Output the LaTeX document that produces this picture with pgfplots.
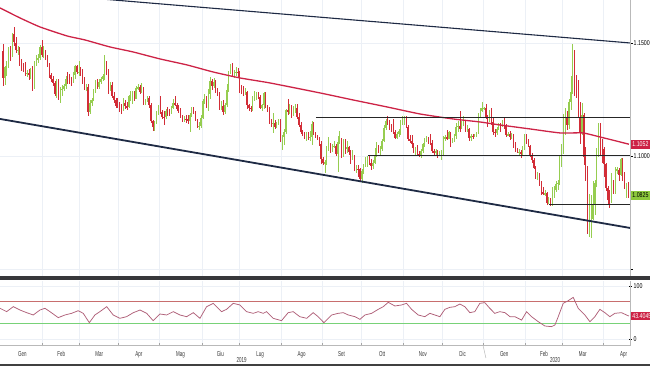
\documentclass[border=0pt]{standalone}
\usepackage{pgfplots}
\pgfplotsset{compat=1.18}
\usepackage{pgfplotstable}
\usepackage{fontspec}
\setmainfont{Liberation Sans}
\newfontfamily\condA[FakeStretch=0.62]{Liberation Sans}
\newfontfamily\condB[FakeStretch=0.75]{Liberation Sans}
\definecolor{upc}{RGB}{150,205,80}
\definecolor{dnc}{RGB}{210,45,55}
\definecolor{mac}{RGB}{205,35,70}
\definecolor{navy}{RGB}{30,42,68}
\definecolor{gridc}{RGB}{236,240,246}
\definecolor{rsic}{RGB}{175,95,120}
\definecolor{r70}{RGB}{200,110,110}
\definecolor{r30}{RGB}{120,210,120}
\definecolor{sepc}{RGB}{55,55,58}
\definecolor{boxg}{RGB}{140,200,60}

\pgfplotstableread{
i o h l c
0 1.1466 1.1497 1.1309 1.1344
1 1.1344 1.1396 1.1313 1.1393
2 1.1393 1.1419 1.1354 1.1395
3 1.1395 1.1483 1.1390 1.1475
4 1.1475 1.1486 1.1421 1.1442
5 1.1442 1.1542 1.1437 1.1538
6 1.1538 1.1570 1.1485 1.1502
7 1.1502 1.1525 1.1455 1.1467
8 1.1467 1.1486 1.1446 1.1470
9 1.1470 1.1481 1.1397 1.1412
10 1.1412 1.1428 1.1374 1.1394
11 1.1394 1.1413 1.1371 1.1392
12 1.1392 1.1414 1.1352 1.1364
13 1.1364 1.1380 1.1351 1.1366
14 1.1366 1.1384 1.1335 1.1362
15 1.1362 1.1390 1.1342 1.1383
16 1.1383 1.1397 1.1289 1.1303
17 1.1303 1.1419 1.1297 1.1407
18 1.1407 1.1448 1.1397 1.1428
19 1.1428 1.1450 1.1412 1.1433
20 1.1433 1.1490 1.1425 1.1482
21 1.1482 1.1514 1.1440 1.1447
22 1.1447 1.1488 1.1432 1.1456
23 1.1456 1.1468 1.1425 1.1437
24 1.1437 1.1448 1.1395 1.1407
25 1.1407 1.1413 1.1347 1.1360
26 1.1360 1.1367 1.1325 1.1341
27 1.1341 1.1352 1.1310 1.1325
28 1.1325 1.1331 1.1263 1.1276
29 1.1276 1.1339 1.1257 1.1326
30 1.1326 1.1341 1.1249 1.1265
31 1.1265 1.1305 1.1234 1.1295
32 1.1295 1.1314 1.1265 1.1296
33 1.1296 1.1319 1.1287 1.1309
34 1.1309 1.1355 1.1297 1.1342
35 1.1342 1.1372 1.1320 1.1339
36 1.1339 1.1361 1.1318 1.1335
37 1.1335 1.1350 1.1308 1.1333
38 1.1333 1.1370 1.1321 1.1359
39 1.1359 1.1402 1.1339 1.1398
40 1.1398 1.1404 1.1362 1.1371
41 1.1371 1.1419 1.1355 1.1371
42 1.1371 1.1394 1.1354 1.1364
43 1.1364 1.1386 1.1320 1.1338
44 1.1338 1.1349 1.1292 1.1305
45 1.1305 1.1320 1.1287 1.1307
46 1.1307 1.1319 1.1176 1.1194
47 1.1194 1.1247 1.1184 1.1234
48 1.1234 1.1258 1.1219 1.1247
49 1.1247 1.1297 1.1242 1.1288
50 1.1288 1.1336 1.1280 1.1326
51 1.1326 1.1340 1.1296 1.1304
52 1.1304 1.1339 1.1298 1.1326
53 1.1326 1.1350 1.1318 1.1339
54 1.1339 1.1362 1.1330 1.1352
55 1.1352 1.1448 1.1338 1.1416
56 1.1416 1.1420 1.1360 1.1375
57 1.1375 1.1384 1.1274 1.1300
58 1.1300 1.1325 1.1288 1.1313
59 1.1313 1.1326 1.1256 1.1267
60 1.1267 1.1285 1.1236 1.1248
61 1.1248 1.1257 1.1210 1.1220
62 1.1220 1.1255 1.1212 1.1218
63 1.1218 1.1240 1.1196 1.1212
64 1.1212 1.1230 1.1184 1.1206
65 1.1206 1.1256 1.1198 1.1236
66 1.1236 1.1249 1.1206 1.1219
67 1.1219 1.1237 1.1205 1.1217
68 1.1217 1.1270 1.1210 1.1263
69 1.1263 1.1286 1.1245 1.1265
70 1.1265 1.1287 1.1229 1.1274
71 1.1274 1.1289 1.1245 1.1254
72 1.1254 1.1310 1.1250 1.1299
73 1.1299 1.1318 1.1290 1.1305
74 1.1305 1.1313 1.1275 1.1283
75 1.1283 1.1323 1.1277 1.1297
76 1.1297 1.1305 1.1226 1.1232
77 1.1232 1.1250 1.1226 1.1245
78 1.1245 1.1264 1.1240 1.1257
79 1.1257 1.1266 1.1214 1.1225
80 1.1225 1.1233 1.1147 1.1154
81 1.1154 1.1160 1.1112 1.1130
82 1.1130 1.1154 1.1110 1.1149
83 1.1149 1.1197 1.1142 1.1186
84 1.1186 1.1227 1.1180 1.1215
85 1.1215 1.1265 1.1187 1.1196
86 1.1196 1.1204 1.1163 1.1173
87 1.1173 1.1199 1.1135 1.1171
88 1.1171 1.1209 1.1165 1.1201
89 1.1201 1.1218 1.1178 1.1191
90 1.1191 1.1207 1.1175 1.1190
91 1.1190 1.1220 1.1184 1.1214
92 1.1214 1.1251 1.1207 1.1234
93 1.1234 1.1264 1.1220 1.1225
94 1.1225 1.1236 1.1200 1.1209
95 1.1209 1.1225 1.1191 1.1203
96 1.1203 1.1210 1.1166 1.1172
97 1.1172 1.1181 1.1151 1.1157
98 1.1157 1.1175 1.1149 1.1165
99 1.1165 1.1180 1.1147 1.1162
100 1.1162 1.1181 1.1141 1.1153
101 1.1153 1.1188 1.1107 1.1181
102 1.1181 1.1215 1.1174 1.1204
103 1.1204 1.1216 1.1186 1.1191
104 1.1191 1.1198 1.1153 1.1160
105 1.1160 1.1163 1.1125 1.1130
106 1.1130 1.1151 1.1116 1.1133
107 1.1133 1.1181 1.1124 1.1169
108 1.1169 1.1250 1.1162 1.1241
109 1.1241 1.1276 1.1230 1.1254
110 1.1254 1.1266 1.1210 1.1221
111 1.1221 1.1295 1.1200 1.1275
112 1.1275 1.1348 1.1253 1.1333
113 1.1333 1.1340 1.1293 1.1311
114 1.1311 1.1345 1.1302 1.1326
115 1.1326 1.1338 1.1280 1.1290
116 1.1290 1.1300 1.1264 1.1275
117 1.1275 1.1285 1.1202 1.1210
118 1.1210 1.1243 1.1203 1.1221
119 1.1221 1.1247 1.1181 1.1193
120 1.1193 1.1235 1.1185 1.1225
121 1.1225 1.1319 1.1215 1.1293
122 1.1293 1.1375 1.1281 1.1370
123 1.1370 1.1405 1.1362 1.1400
124 1.1400 1.1412 1.1355 1.1367
125 1.1367 1.1381 1.1344 1.1368
126 1.1368 1.1392 1.1356 1.1372
127 1.1372 1.1389 1.1351 1.1370
128 1.1370 1.1378 1.1279 1.1287
129 1.1287 1.1313 1.1276 1.1285
130 1.1285 1.1309 1.1266 1.1283
131 1.1283 1.1300 1.1270 1.1284
132 1.1284 1.1288 1.1207 1.1225
133 1.1225 1.1232 1.1200 1.1213
134 1.1213 1.1220 1.1193 1.1207
135 1.1207 1.1264 1.1200 1.1252
136 1.1252 1.1286 1.1242 1.1254
137 1.1254 1.1285 1.1246 1.1271
138 1.1271 1.1282 1.1250 1.1261
139 1.1261 1.1270 1.1207 1.1213
140 1.1213 1.1231 1.1200 1.1225
141 1.1225 1.1282 1.1206 1.1278
142 1.1278 1.1283 1.1211 1.1219
143 1.1219 1.1225 1.1195 1.1209
144 1.1209 1.1216 1.1143 1.1152
145 1.1152 1.1165 1.1126 1.1142
146 1.1142 1.1188 1.1101 1.1146
147 1.1146 1.1159 1.1119 1.1127
148 1.1127 1.1150 1.1122 1.1144
149 1.1144 1.1165 1.1135 1.1155
150 1.1155 1.1162 1.1063 1.1075
151 1.1075 1.1093 1.1027 1.1085
152 1.1085 1.1118 1.1050 1.1108
153 1.1108 1.1209 1.1095 1.1203
154 1.1203 1.1250 1.1183 1.1199
155 1.1199 1.1230 1.1185 1.1199
156 1.1199 1.1227 1.1166 1.1180
157 1.1180 1.1221 1.1175 1.1200
158 1.1200 1.1228 1.1190 1.1213
159 1.1213 1.1230 1.1164 1.1171
160 1.1171 1.1189 1.1130 1.1138
161 1.1138 1.1148 1.1096 1.1104
162 1.1104 1.1115 1.1087 1.1090
163 1.1090 1.1104 1.1073 1.1078
164 1.1078 1.1107 1.1066 1.1096
165 1.1096 1.1108 1.1070 1.1082
166 1.1082 1.1109 1.1066 1.1082
167 1.1082 1.1153 1.1050 1.1143
168 1.1143 1.1152 1.1092 1.1101
169 1.1101 1.1107 1.1079 1.1089
170 1.1089 1.1094 1.1069 1.1078
171 1.1078 1.1085 1.1043 1.1055
172 1.1055 1.1064 1.0965 1.0985
173 1.0985 1.0997 1.0958 1.0967
174 1.0967 1.0983 1.0926 1.0973
175 1.0973 1.1042 1.0960 1.1034
176 1.1034 1.1085 1.1020 1.1036
177 1.1036 1.1058 1.1015 1.1027
178 1.1027 1.1054 1.1017 1.1045
179 1.1045 1.1068 1.1035 1.1045
180 1.1045 1.1055 1.0998 1.1010
181 1.1010 1.1087 1.0927 1.1062
182 1.1062 1.1109 1.1055 1.1074
183 1.1074 1.1080 1.0990 1.1003
184 1.1003 1.1075 1.0996 1.1073
185 1.1073 1.1075 1.1010 1.1030
186 1.1030 1.1068 1.1015 1.1039
187 1.1039 1.1045 1.1005 1.1018
188 1.1018 1.1025 1.0965 1.0990
189 1.0990 1.1025 1.0980 1.0998
190 1.0998 1.1005 1.0932 1.0941
191 1.0941 1.0960 1.0925 1.0941
192 1.0941 1.0960 1.0905 1.0940
193 1.0940 1.0945 1.0885 1.0899
194 1.0899 1.0943 1.0879 1.0933
195 1.0933 1.0964 1.0918 1.0960
196 1.0960 1.0997 1.0950 1.0966
197 1.0966 1.0999 1.0950 1.0977
198 1.0977 1.0999 1.0960 1.0971
199 1.0971 1.0985 1.0940 1.0957
200 1.0957 1.0983 1.0943 1.0971
201 1.0971 1.1033 1.0965 1.1005
202 1.1005 1.1063 1.0997 1.1040
203 1.1040 1.1047 1.1014 1.1029
204 1.1029 1.1044 1.1000 1.1031
205 1.1031 1.1075 1.1023 1.1068
206 1.1068 1.1139 1.1060 1.1125
207 1.1125 1.1163 1.1115 1.1155
208 1.1155 1.1179 1.1139 1.1153
209 1.1153 1.1160 1.1116 1.1126
210 1.1126 1.1140 1.1105 1.1123
211 1.1123 1.1163 1.1097 1.1105
212 1.1105 1.1115 1.1073 1.1080
213 1.1080 1.1106 1.1074 1.1098
214 1.1098 1.1120 1.1085 1.1112
215 1.1112 1.1160 1.1093 1.1151
216 1.1151 1.1175 1.1136 1.1152
217 1.1152 1.1176 1.1137 1.1166
218 1.1166 1.1176 1.1125 1.1128
219 1.1128 1.1137 1.1065 1.1077
220 1.1077 1.1093 1.1057 1.1066
221 1.1066 1.1092 1.1035 1.1051
222 1.1051 1.1057 1.1013 1.1018
223 1.1018 1.1038 1.1006 1.1033
224 1.1033 1.1047 1.1002 1.1008
225 1.1008 1.1024 1.0995 1.1006
226 1.1006 1.1030 1.0989 1.1023
227 1.1023 1.1057 1.1012 1.1051
228 1.1051 1.1081 1.1040 1.1075
229 1.1075 1.1088 1.1060 1.1078
230 1.1078 1.1084 1.1051 1.1074
231 1.1074 1.1098 1.1050 1.1057
232 1.1057 1.1072 1.1015 1.1021
233 1.1021 1.1031 1.1006 1.1014
234 1.1014 1.1031 1.0998 1.1024
235 1.1024 1.1028 1.0993 1.1008
236 1.1008 1.1020 1.0999 1.1010
237 1.1010 1.1027 1.0981 1.1017
238 1.1017 1.1090 1.1005 1.1078
239 1.1078 1.1093 1.1066 1.1082
240 1.1082 1.1116 1.1070 1.1077
241 1.1077 1.1110 1.1073 1.1104
242 1.1104 1.1107 1.1040 1.1059
243 1.1059 1.1081 1.1056 1.1064
244 1.1064 1.1097 1.1063 1.1090
245 1.1090 1.1145 1.1074 1.1130
246 1.1130 1.1154 1.1106 1.1131
247 1.1131 1.1200 1.1106 1.1120
248 1.1120 1.1155 1.1118 1.1143
249 1.1143 1.1176 1.1134 1.1150
250 1.1150 1.1153 1.1108 1.1120
251 1.1120 1.1137 1.1107 1.1120
252 1.1120 1.1124 1.1067 1.1080
253 1.1080 1.1095 1.1065 1.1090
254 1.1090 1.1096 1.1073 1.1087
255 1.1087 1.1095 1.1082 1.1090
256 1.1090 1.1108 1.1083 1.1102
257 1.1102 1.1188 1.1098 1.1178
258 1.1178 1.1210 1.1168 1.1200
259 1.1200 1.1239 1.1195 1.1213
260 1.1213 1.1218 1.1205 1.1213
261 1.1213 1.1229 1.1163 1.1172
262 1.1172 1.1180 1.1126 1.1160
263 1.1160 1.1205 1.1151 1.1196
264 1.1196 1.1214 1.1136 1.1151
265 1.1151 1.1171 1.1091 1.1106
266 1.1106 1.1119 1.1085 1.1103
267 1.1103 1.1130 1.1094 1.1121
268 1.1121 1.1146 1.1113 1.1134
269 1.1134 1.1145 1.1107 1.1127
270 1.1127 1.1157 1.1126 1.1152
271 1.1152 1.1173 1.1121 1.1135
272 1.1135 1.1142 1.1083 1.1091
273 1.1091 1.1106 1.1087 1.1096
274 1.1096 1.1110 1.1070 1.1083
275 1.1083 1.1100 1.1077 1.1091
276 1.1091 1.1096 1.1036 1.1054
277 1.1054 1.1063 1.1019 1.1025
278 1.1025 1.1034 1.1011 1.1019
279 1.1019 1.1029 1.1005 1.1019
280 1.1019 1.1025 1.0992 1.1009
281 1.1009 1.1044 1.1000 1.1032
282 1.1032 1.1095 1.1025 1.1093
283 1.1093 1.1097 1.1052 1.1060
284 1.1060 1.1074 1.1040 1.1045
285 1.1045 1.1050 1.0995 1.1000
286 1.1000 1.1014 1.0968 1.0981
287 1.0981 1.0990 1.0940 1.0945
288 1.0945 1.0955 1.0900 1.0909
289 1.0909 1.0929 1.0893 1.0916
290 1.0916 1.0925 1.0867 1.0873
291 1.0873 1.0887 1.0828 1.0841
292 1.0841 1.0862 1.0826 1.0830
293 1.0830 1.0848 1.0824 1.0836
294 1.0836 1.0840 1.0785 1.0790
295 1.0790 1.0817 1.0786 1.0805
296 1.0805 1.0814 1.0778 1.0781
297 1.0781 1.0863 1.0779 1.0848
298 1.0848 1.0868 1.0812 1.0851
299 1.0851 1.0890 1.0841 1.0878
300 1.0878 1.0892 1.0851 1.0882
301 1.0882 1.1005 1.0872 1.0998
302 1.0998 1.1053 1.0953 1.1027
303 1.1027 1.1185 1.1010 1.1137
304 1.1137 1.1214 1.1093 1.1174
305 1.1174 1.1200 1.1117 1.1135
306 1.1135 1.1250 1.1119 1.1240
307 1.1240 1.1355 1.1203 1.1285
308 1.1285 1.1495 1.1276 1.1452
309 1.1452 1.1467 1.1265 1.1283
310 1.1283 1.1359 1.1255 1.1266
311 1.1266 1.1334 1.1170 1.1172
312 1.1172 1.1240 1.1055 1.1105
313 1.1105 1.1236 1.1091 1.1183
314 1.1183 1.1189 1.0960 1.0995
315 1.0995 1.1040 1.0890 1.0918
316 1.0918 1.0955 1.0655 1.0690
317 1.0690 1.0831 1.0640 1.0698
318 1.0698 1.0828 1.0636 1.0721
319 1.0721 1.0890 1.0717 1.0786
320 1.0786 1.0893 1.0737 1.0881
321 1.0881 1.1034 1.0863 1.1031
322 1.1031 1.1147 1.0995 1.1140
323 1.1140 1.1145 1.1000 1.1043
324 1.1043 1.1073 1.0968 1.1031
325 1.1031 1.1039 1.0905 1.0963
326 1.0963 1.0968 1.0846 1.0857
327 1.0857 1.0866 1.0781 1.0805
328 1.0805 1.0850 1.0768 1.0797
329 1.0797 1.0926 1.0790 1.0892
330 1.0892 1.0895 1.0832 1.0857
331 1.0857 1.0952 1.0830 1.0936
332 1.0936 1.0951 1.0920 1.0940
333 1.0940 1.0946 1.0890 1.0915
334 1.0915 1.0990 1.0910 1.0986
335 1.0986 1.0991 1.0890 1.0910
336 1.0910 1.0927 1.0855 1.0862
337 1.0862 1.0880 1.0812 1.0876
338 1.0876 1.0885 1.0815 1.0825
}\candles

\pgfplotstableread{
i v
-1.6 1.16549
9.2 1.16106
20.0 1.15708
34.6 1.15310
44.3 1.15133
57.8 1.14823
70.3 1.14602
84.9 1.14292
99.5 1.14027
113.5 1.13717
128.1 1.13451
144.3 1.13230
171.4 1.12788
189.2 1.12478
207.6 1.12168
225.4 1.11858
243.2 1.11637
257.8 1.11504
268.6 1.11372
284.9 1.11195
301.1 1.11018
313.5 1.11018
322.7 1.10841
338.4 1.10520
}\mavg

\pgfplotstableread{
i r
-1.6 57.9
2.0 51.6
5.6 61.0
9.2 54.7
12.8 49.7
16.4 45.3
20.0 54.7
22.7 57.9
25.4 51.6
29.9 40.3
33.5 45.3
37.1 48.4
40.7 53.4
43.4 48.4
46.7 30.8
49.7 45.3
52.4 51.6
56.1 61.0
59.6 45.3
63.2 39.0
66.8 42.1
70.5 49.7
74.1 54.7
77.7 48.4
81.2 34.6
84.9 47.2
88.5 45.3
92.1 51.6
95.7 45.3
99.3 42.1
102.9 49.7
106.5 39.0
110.1 61.0
113.7 67.3
118.2 51.6
120.9 56.0
124.5 67.3
128.1 64.2
131.7 51.6
135.3 48.4
138.0 51.6
140.7 48.4
142.5 51.6
146.1 39.0
150.6 34.6
154.2 49.7
156.9 51.6
160.5 42.1
164.2 39.0
167.7 49.7
170.4 42.1
173.5 30.8
177.7 45.3
181.2 48.4
184.0 49.7
186.7 45.3
190.3 42.1
193.0 37.1
195.7 45.3
199.3 48.4
202.9 56.0
205.6 61.0
208.3 69.2
211.9 62.3
215.5 64.2
218.2 67.3
220.9 56.0
224.5 45.3
228.1 42.1
230.8 48.4
233.5 45.3
236.2 42.1
238.9 56.0
241.6 59.7
244.3 61.0
247.0 66.0
249.7 61.0
252.4 49.7
255.1 51.6
257.8 67.3
260.5 68.6
263.2 57.9
265.9 48.4
268.6 51.6
271.4 49.7
274.1 42.1
276.8 42.1
280.4 35.8
283.1 51.6
285.8 42.1
289.4 32.7
293.0 24.5
296.6 23.3
298.4 26.4
300.2 42.1
302.9 67.3
305.6 72.3
308.3 78.6
311.0 57.9
314.6 45.3
317.3 32.7
320.0 42.1
322.7 56.0
325.4 49.7
328.1 42.1
330.8 48.4
334.4 49.7
337.1 45.3
338.4 43.4
}\rsi

\newcommand{\lblA}{\condA\fontsize{7.2}{8}\selectfont}
\newcommand{\lblB}{\condB\fontsize{7}{8}\selectfont}

\begin{document}
\begin{tikzpicture}
\useasboundingbox (0,0) rectangle (650pt,366pt);
\fill[sepc] (0,86pt) rectangle (650pt,89.5pt);
\fill[black!75] (0,0) rectangle (650pt,1.5pt);

\begin{axis}[
  at={(0pt,90pt)}, anchor=south west, scale only axis,
  width=630pt, height=276pt,
  xmin=-1.6, xmax=339, ymin=1.046903, ymax=1.169027,
  clip mode=individual,
  axis line style={draw=none},
  xtick={21.5,41.5,62.5,84.5,107.5,127.5,150.5,172.5,193.5,216.5,237.5,259.5,282.5,302.5,324.5},
  xticklabels={}, xtick style={draw=none}, xmajorgrids,
  ytick={1.05,1.10,1.15}, yticklabels={,1.1000,1.1500},
  ymajorgrids, grid style={gridc, line width=0.5pt},
  ytick pos=right, yticklabel pos=right,
  tick align=outside, major tick length=2.5pt,
  ytick style={black, line width=0.8pt},
  yticklabel style={font=\lblB, text=black, inner sep=1pt},
]
% wicks
\addplot[draw=none, forget plot, error bars/.cd, y dir=both, y explicit, error mark=none,
  error bar style={draw=upc, line width=0.45pt}]
  table[x=i, y expr={\thisrow{c}>=\thisrow{o} ? (\thisrow{h}+\thisrow{l})/2 : -1},
        y error expr={(\thisrow{h}-\thisrow{l})/2}] {\candles};
\addplot[draw=none, forget plot, error bars/.cd, y dir=both, y explicit, error mark=none,
  error bar style={draw=dnc, line width=0.45pt}]
  table[x=i, y expr={\thisrow{c}<\thisrow{o} ? (\thisrow{h}+\thisrow{l})/2 : -1},
        y error expr={(\thisrow{h}-\thisrow{l})/2}] {\candles};
% bodies
\addplot[draw=none, forget plot, error bars/.cd, y dir=both, y explicit, error mark=none,
  error bar style={draw=upc, line width=1.3pt}]
  table[x=i, y expr={\thisrow{c}>=\thisrow{o} ? (\thisrow{o}+\thisrow{c})/2 : -1},
        y error expr={max(abs(\thisrow{c}-\thisrow{o})/2,0.00006)}] {\candles};
\addplot[draw=none, forget plot, error bars/.cd, y dir=both, y explicit, error mark=none,
  error bar style={draw=dnc, line width=1.3pt}]
  table[x=i, y expr={\thisrow{c}<\thisrow{o} ? (\thisrow{o}+\thisrow{c})/2 : -1},
        y error expr={max(abs(\thisrow{c}-\thisrow{o})/2,0.00006)}] {\candles};
% moving average
\addplot[mac, line width=1.3pt, smooth, tension=0.3] table[x=i, y=v] {\mavg};
% trend lines
\addplot[navy, line width=1.1pt] coordinates {(50,1.16967) (339,1.14999)};
\addplot[navy, line width=1.8pt] coordinates {(-1.6,1.11637) (339,1.06814)};
% horizontal levels
\addplot[black!85, line width=1pt] coordinates {(169.2,1.1168) (339,1.1168)};
\addplot[black!85, line width=1pt] coordinates {(197.3,1.1000) (339,1.1000)};
\addplot[black!85, line width=1pt] coordinates {(295.1,1.0783) (339,1.0783)};
\draw[gray!55, line width=0.5pt] (rel axis cs:1,0) -- (rel axis cs:1,1);
\node[fill=mac, text=white, anchor=west, inner xsep=1.2pt, inner ysep=2pt, font=\lblB] at ([xshift=1pt]axis cs:339,1.1052) {1.1052};
\node[fill=boxg, text=black, anchor=west, inner xsep=1.2pt, inner ysep=2pt, font=\lblB] at ([xshift=1pt]axis cs:339,1.0825) {1.0825};
\end{axis}

\begin{axis}[
  at={(0pt,21pt)}, anchor=south west, scale only axis,
  width=630pt, height=64pt,
  xmin=-1.6, xmax=339, ymin=-11.32, ymax=109.43,
  clip mode=individual,
  axis line style={draw=none},
  xtick={21.5,41.5,62.5,84.5,107.5,127.5,150.5,172.5,193.5,216.5,237.5,259.5,282.5,302.5,324.5},
  xticklabels={}, xtick pos=bottom, xmajorgrids,
  xtick style={gray!70, line width=0.5pt},
  ytick={0,100}, yticklabels={0,100},
  ymajorgrids, grid style={gridc, line width=0.5pt},
  ytick pos=right, yticklabel pos=right,
  tick align=center, major tick length=3pt,
  ytick style={black, line width=0.8pt},
  yticklabel style={font=\lblB, text=black, inner sep=1pt, xshift=1pt},
  extra x ticks={10.5,31.5,52,73.5,96,117.5,139,161.5,183,205,227,248.5,271,292.5,313.5,335.5},
  extra x tick labels={Gen,Feb,Mar,Apr,Mag,Giu,Lug,Ago,Set,Ott,Nov,Dic,Gen,Feb,Mar,Apr},
  extra x tick style={grid=none, tick style={draw=none},
    xticklabel style={font=\lblA, text=black!80, yshift=-1.2pt}},
]
\addplot[r70, line width=0.9pt] coordinates {(-1.6,70) (339,70)};
\addplot[r30, line width=0.9pt] coordinates {(-1.6,30) (339,30)};
\addplot[rsic, line width=0.75pt] table[x=i, y=r] {\rsi};
\draw[gray!55, line width=0.5pt] (rel axis cs:0,0) -- (rel axis cs:1,0) -- (rel axis cs:1,1);
\draw[gray!55, line width=0.5pt] (axis cs:259.5,-11.32) -- ++(0,-19pt);
\node[font=\lblA, text=black!80] at ([yshift=-15pt]axis cs:129,-11.32) {2019};
\node[font=\lblA, text=black!80] at ([yshift=-15pt]axis cs:298.5,-11.32) {2020};
\node[fill=mac, text=white, anchor=west, inner xsep=1.2pt, inner ysep=2pt, font=\lblB] at ([xshift=1pt]axis cs:339,43.4) {43.4045};
\end{axis}
\end{tikzpicture}
\end{document}
